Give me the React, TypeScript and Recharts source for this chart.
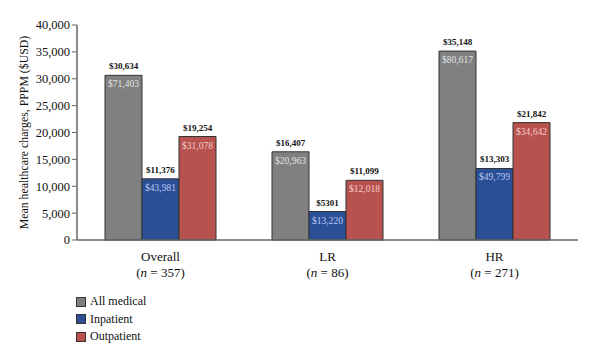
import { BarChart, Bar, XAxis, YAxis, Legend, LabelList } from 'recharts'

const categories = ['Overall', 'LR', 'HR']
const sampleSizes = [357, 86, 271]

// mean charges (label above each bar)
const allMedical = [30634, 16407, 35148]
const inpatient = [11376, 5301, 13303]
const outpatient = [19254, 11099, 21842]

// secondary figures printed inside the bars
const allMedicalInner = [71403, 20963, 80617]
const inpatientInner = [43981, 13220, 49799]
const outpatientInner = [31078, 12018, 34642]

const yTicks = [0, 5000, 10000, 15000, 20000, 25000, 30000, 35000, 40000]

const FONT = '"Liberation Serif", "DejaVu Serif", serif'

const series = [
  { key: 'all', name: 'All medical', color: '#808080', inner: '#e2e2e2' },
  { key: 'inp', name: 'Inpatient', color: '#2b4f97', inner: '#b9c8f0' },
  { key: 'out', name: 'Outpatient', color: '#b8524e', inner: '#f6caca' },
]

const data = categories.map((name, i) => ({
  name,
  n: sampleSizes[i],
  all: allMedical[i],
  inp: inpatient[i],
  out: outpatient[i],
  allInner: allMedicalInner[i],
  inpInner: inpatientInner[i],
  outInner: outpatientInner[i],
}))

const money = (v: number) => '$' + (v >= 10000 ? v.toLocaleString('en-US') : String(v))

const TopLabel = (props: any) => {
  const { x, y, width, value } = props
  return (
    <text x={x + width / 2} y={y - 6} textAnchor="middle" fontSize={9} fontFamily={FONT} fill="#111" fontWeight={600}>
      {money(value)}
    </text>
  )
}

const innerLabel = (fill: string) => (props: any) => {
  const { x, y, width, value } = props
  return (
    <text x={x + width / 2} y={y + 12} textAnchor="middle" fontSize={9.5} fontFamily={FONT} fill={fill}>
      {money(value)}
    </text>
  )
}

const CategoryTick = (props: any) => {
  const { x, y, payload, index } = props
  return (
    <g>
      <text x={x} y={y + 13} textAnchor="middle" fontSize={13} fontFamily={FONT} fill="#111">
        {payload.value}
      </text>
      <text x={x} y={y + 29} textAnchor="middle" fontSize={13} fontFamily={FONT} fill="#111">
        (<tspan fontStyle="italic">n</tspan> = {sampleSizes[index]})
      </text>
    </g>
  )
}

const LegendList = () => (
  <div style={{ fontFamily: FONT, fontSize: 12, color: '#111' }}>
    {series.map((s) => (
      <div key={s.key} style={{ display: 'flex', alignItems: 'center', height: 17.5 }}>
        <span
          style={{
            display: 'inline-block',
            width: 8,
            height: 8,
            background: s.color,
            border: '1px solid #333',
            marginRight: 4,
          }}
        />
        {s.name}
      </div>
    ))}
  </div>
)

export default function App() {
  return (
    <div style={{ position: 'absolute', left: 0, top: 0, width: 600, height: 349, background: '#fff' }}>
      <BarChart
        width={600}
        height={349}
        data={data}
        margin={{ top: 25, right: 22, left: 0, bottom: 64 }}
        barGap={0}
        barSize={37}
      >
        <XAxis
          dataKey="name"
          height={45}
          tickLine={false}
          axisLine={{ stroke: '#666', strokeWidth: 1.5 }}
          tick={<CategoryTick />}
          interval={0}
        />
        <YAxis
          width={77}
          domain={[0, 40000]}
          ticks={yTicks}
          interval={0}
          tickFormatter={(v: number) => v.toLocaleString('en-US')}
          tick={{ fontSize: 12.5, fontFamily: FONT, fill: '#111' }}
          tickSize={5}
          tickLine={{ stroke: '#666' }}
          axisLine={{ stroke: '#666', strokeWidth: 1.5 }}
          label={{
            value: 'Mean healthcare charges, PPPM ($USD)',
            angle: -90,
            position: 'insideLeft',
            offset: 24,
            style: { textAnchor: 'middle', fontSize: 11.8, fontFamily: FONT, fill: '#111' },
          }}
        />
        <Legend
          layout="horizontal"
          verticalAlign="middle"
          content={<LegendList />}
          wrapperStyle={{ position: 'absolute', left: 76, top: 293, width: 120, height: 54 }}
        />
        {series.map((s) => (
          <Bar key={s.key} dataKey={s.key} name={s.name} fill={s.color} stroke="#333" strokeWidth={1} isAnimationActive={false}>
            <LabelList dataKey={s.key} content={<TopLabel />} />
            <LabelList dataKey={s.key + 'Inner'} content={innerLabel(s.inner)} />
          </Bar>
        ))}
      </BarChart>
    </div>
  )
}
